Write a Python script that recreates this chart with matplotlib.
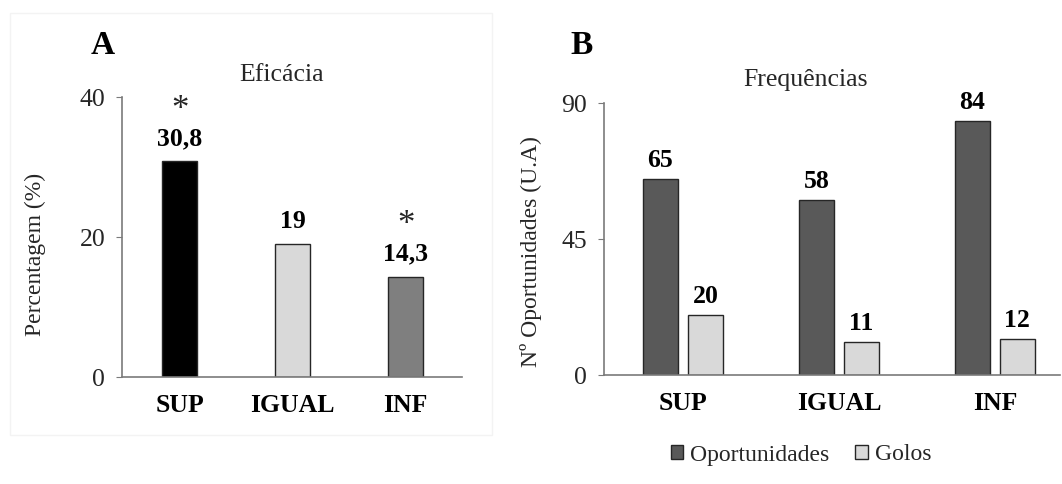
import numpy as np
import matplotlib
matplotlib.use("Agg")
import matplotlib.pyplot as plt
from matplotlib.patches import Rectangle

plt.rcParams["font.family"] = ["Liberation Serif", "DejaVu Serif"]

categorias = ["SUP", "IGUAL", "INF"]
eficacia = [30.8, 19, 14.3]
eficacia_txt = ["30,8", "19", "14,3"]
significativo = [True, False, True]
oportunidades = [65, 58, 84]
golos = [20, 11, 12]

cores_a = ["#000000", "#d9d9d9", "#7f7f7f"]
cor_op = "#595959"
cor_golos = "#d9d9d9"
cor_borda = "#262626"
cor_eixo = "#7a7a7a"
cor_txt = "#262626"

fig = plt.figure(figsize=(10.62, 4.84), dpi=100)

# moldura clara do painel A
fig.patches.append(Rectangle((10 / 1062, 1 - 435 / 484), 482 / 1062, 422 / 484,
                             transform=fig.transFigure, fill=False,
                             edgecolor="#f3f3f3", linewidth=1))


def estilo_eixos(ax):
    for s in ["top", "right"]:
        ax.spines[s].set_visible(False)
    ax.spines["left"].set_color(cor_eixo)
    ax.spines["bottom"].set_color(cor_eixo)
    ax.spines["left"].set_linewidth(1.2)
    ax.spines["bottom"].set_linewidth(1.2)
    ax.tick_params(axis="x", length=0, pad=12, labelsize=18.5)
    ax.tick_params(axis="y", length=4, color=cor_eixo, pad=8, labelsize=18.5,
                   labelcolor=cor_txt)
    for lb in ax.get_xticklabels():
        lb.set_fontweight("bold")


# ---- painel A: eficácia
ax1 = fig.add_axes([122 / 1062, 1 - 377 / 484, 340 / 1062, 280 / 484])
x = np.arange(len(categorias))
barras = ax1.bar(x, eficacia, width=0.31, color=cores_a, edgecolor=cor_borda, linewidth=1)
ax1.set_xlim(-0.51, 2.5)
ax1.set_ylim(0, 40)
ax1.set_yticks([0, 20, 40])
ax1.set_xticks(x)
ax1.set_xticklabels(categorias)
estilo_eixos(ax1)
ax1.set_ylabel("Percentagem (%)", fontsize=17, color=cor_txt)
ax1.yaxis.set_label_coords(-0.224, 0.436)

for b, txt, sig in zip(barras, eficacia_txt, significativo):
    cx = b.get_x() + b.get_width() / 2
    ax1.annotate(txt, (cx, b.get_height()), xytext=(0, 8), textcoords="offset points",
                 ha="center", va="bottom", fontsize=18.5, fontweight="bold")
    if sig:
        ax1.annotate("*", (cx, b.get_height()), xytext=(0, 25), textcoords="offset points",
                     ha="center", va="bottom", fontsize=25, color=cor_txt)

fig.text(282 / 1062, 1 - 75 / 484, "Eficácia", ha="center", va="center",
         fontsize=18.5, color=cor_txt)
fig.text(103 / 1062, 1 - 45 / 484, "A", ha="center", va="center",
         fontsize=24, fontweight="bold")

# ---- painel B: frequências
ax2 = fig.add_axes([604 / 1062, 1 - 375 / 484, 456 / 1062, 272 / 484])
w = 0.225
b_op = ax2.bar(x - 0.144, oportunidades, width=w, color=cor_op, edgecolor=cor_borda,
               linewidth=1, label="Oportunidades")
b_go = ax2.bar(x + 0.144, golos, width=w, color=cor_golos, edgecolor=cor_borda,
               linewidth=1, label="Golos")
ax2.set_xlim(-0.506, 2.417)
ax2.set_ylim(0, 90)
ax2.set_yticks([0, 45, 90])
ax2.set_xticks(x)
ax2.set_xticklabels(categorias)
estilo_eixos(ax2)
ax2.set_ylabel("Nº Oportunidades (U.A)", fontsize=17, color=cor_txt)
ax2.yaxis.set_label_coords(-0.136, 0.452)

for grupo in (b_op, b_go):
    for b in grupo:
        ax2.annotate(f"{b.get_height():g}", (b.get_x() + b.get_width() / 2, b.get_height()),
                     xytext=(0, 5), textcoords="offset points",
                     ha="center", va="bottom", fontsize=18.5, fontweight="bold")

fig.text(806 / 1062, 1 - 80 / 484, "Frequências", ha="center", va="center",
         fontsize=18.5, color=cor_txt)
fig.text(582 / 1062, 1 - 45 / 484, "B", ha="center", va="center",
         fontsize=24, fontweight="bold")

fig.legend(handles=[b_op, b_go], loc="center", bbox_to_anchor=(801 / 1062, 1 - 455 / 484),
           ncol=2, frameon=False, fontsize=17, handlelength=0.52, handleheight=0.52,
           handletextpad=0.3, columnspacing=1.1, labelcolor=cor_txt)

fig.savefig("out.png", dpi=100)
